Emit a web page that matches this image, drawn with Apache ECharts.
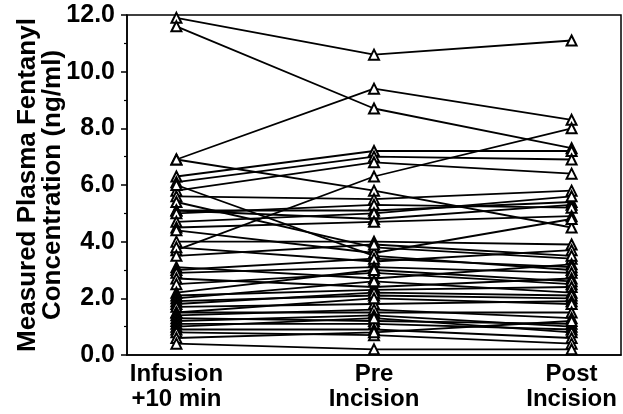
<!DOCTYPE html>
<html><head><meta charset="utf-8">
<script src="https://cdn.jsdelivr.net/npm/echarts@6/dist/echarts.min.js"></script>
<style>html,body{margin:0;padding:0;background:#fff}#c{width:623px;height:414px}</style>
</head><body><div id="c"></div>
<script>
// Category labels
var categories = ['Infusion\n+10 min', 'Pre\nIncision', 'Post\nIncision'];
// Y tick labels
var yTicks = [0, 2, 4, 6, 8, 10, 12];
// Per-subject concentrations (ng/ml) at each time point
var infusion = [11.9,11.6,6.9,6.9,3.7,6.3,6.1,5.8,6.0,5.6,5.4,5.1,5.1,5.0,4.7,4.5,4.4,4.0,3.8,3.5,3.1,3.0,2.9,2.7,2.5,2.2,2.1,2.0,1.9,1.8,1.7,1.5,1.5,1.4,1.3,1.2,1.1,1.0,0.9,0.8,0.6,0.4];
var pre      = [10.6,8.7,9.4,5.8,6.3,7.2,7.0,6.8,3.5,5.5,3.8,5.1,4.8,5.3,5.0,4.7,3.6,4.0,3.3,3.9,2.7,3.4,3.1,2.4,2.9,3.0,2.3,2.6,2.1,2.2,1.8,2.0,1.5,1.6,1.2,1.4,1.1,1.3,0.9,0.7,0.8,0.2];
var post     = [11.1,7.3,8.3,4.5,8.0,7.2,6.9,6.4,3.0,5.8,3.4,5.4,5.3,5.2,5.6,4.9,4.8,3.9,3.7,3.5,3.2,3.1,2.9,2.7,2.5,2.6,2.4,2.2,2.0,2.1,1.9,1.8,1.5,1.3,1.1,1.0,0.9,0.8,0.6,0.4,1.2,0.2];

var series = infusion.map(function (v, i) {
  return {
    type: 'line',
    data: [[0, v], [1, pre[i]], [2, post[i]]],
    symbol: 'triangle',
    symbolSize: 10,
    lineStyle: { color: '#000', width: 1.8 },
    itemStyle: { color: '#fff', borderColor: '#000', borderWidth: 2 },
    emphasis: { disabled: true },
    silent: true
  };
});

var font = 'Liberation Sans, Arial, sans-serif';
var chart = echarts.init(document.getElementById('c'), null, { renderer: 'canvas' });
chart.setOption({
  animation: false,
  backgroundColor: '#fff',
  grid: { left: 127, right: 2, top: 15, bottom: 59, show: true, borderColor: '#000', borderWidth: 1.5, backgroundColor: 'transparent' },
  xAxis: {
    type: 'value', min: -0.25, max: 2.25,
    splitLine: { show: false },
    axisLine: { onZero: false, lineStyle: { color: '#000', width: 1.5 } },
    axisTick: { show: false },
    axisLabel: {
      customValues: [0, 1, 2],
      formatter: function (v) { return categories[Math.round(v)]; },
      color: '#000', fontFamily: font, fontWeight: 'bold', fontSize: 24, lineHeight: 25, margin: 7
    }
  },
  yAxis: {
    type: 'value', min: 0, max: 12, interval: 2,
    name: 'Measured Plasma Fentanyl\nConcentration (ng/ml)',
    nameLocation: 'middle', nameGap: 62, nameRotate: 90, nameMoveOverlap: false,
    nameTextStyle: { color: '#000', fontFamily: font, fontWeight: 'bold', fontSize: 26, lineHeight: 25 },
    splitLine: { show: false },
    axisLine: { show: true, onZero: false, lineStyle: { color: '#000', width: 1.5 } },
    axisTick: { show: true, length: 6, lineStyle: { color: '#000', width: 1.5 } },
    minorTick: { show: true, splitNumber: 2, length: 3, lineStyle: { color: '#000', width: 1.2 } },
    axisLabel: {
      color: '#000', fontFamily: font, fontWeight: 'bold', fontSize: 25, margin: 12,
      formatter: function (v) { return yTicks.indexOf(v) >= 0 ? v.toFixed(1) : ''; }
    }
  },
  series: series
});
</script></body></html>
